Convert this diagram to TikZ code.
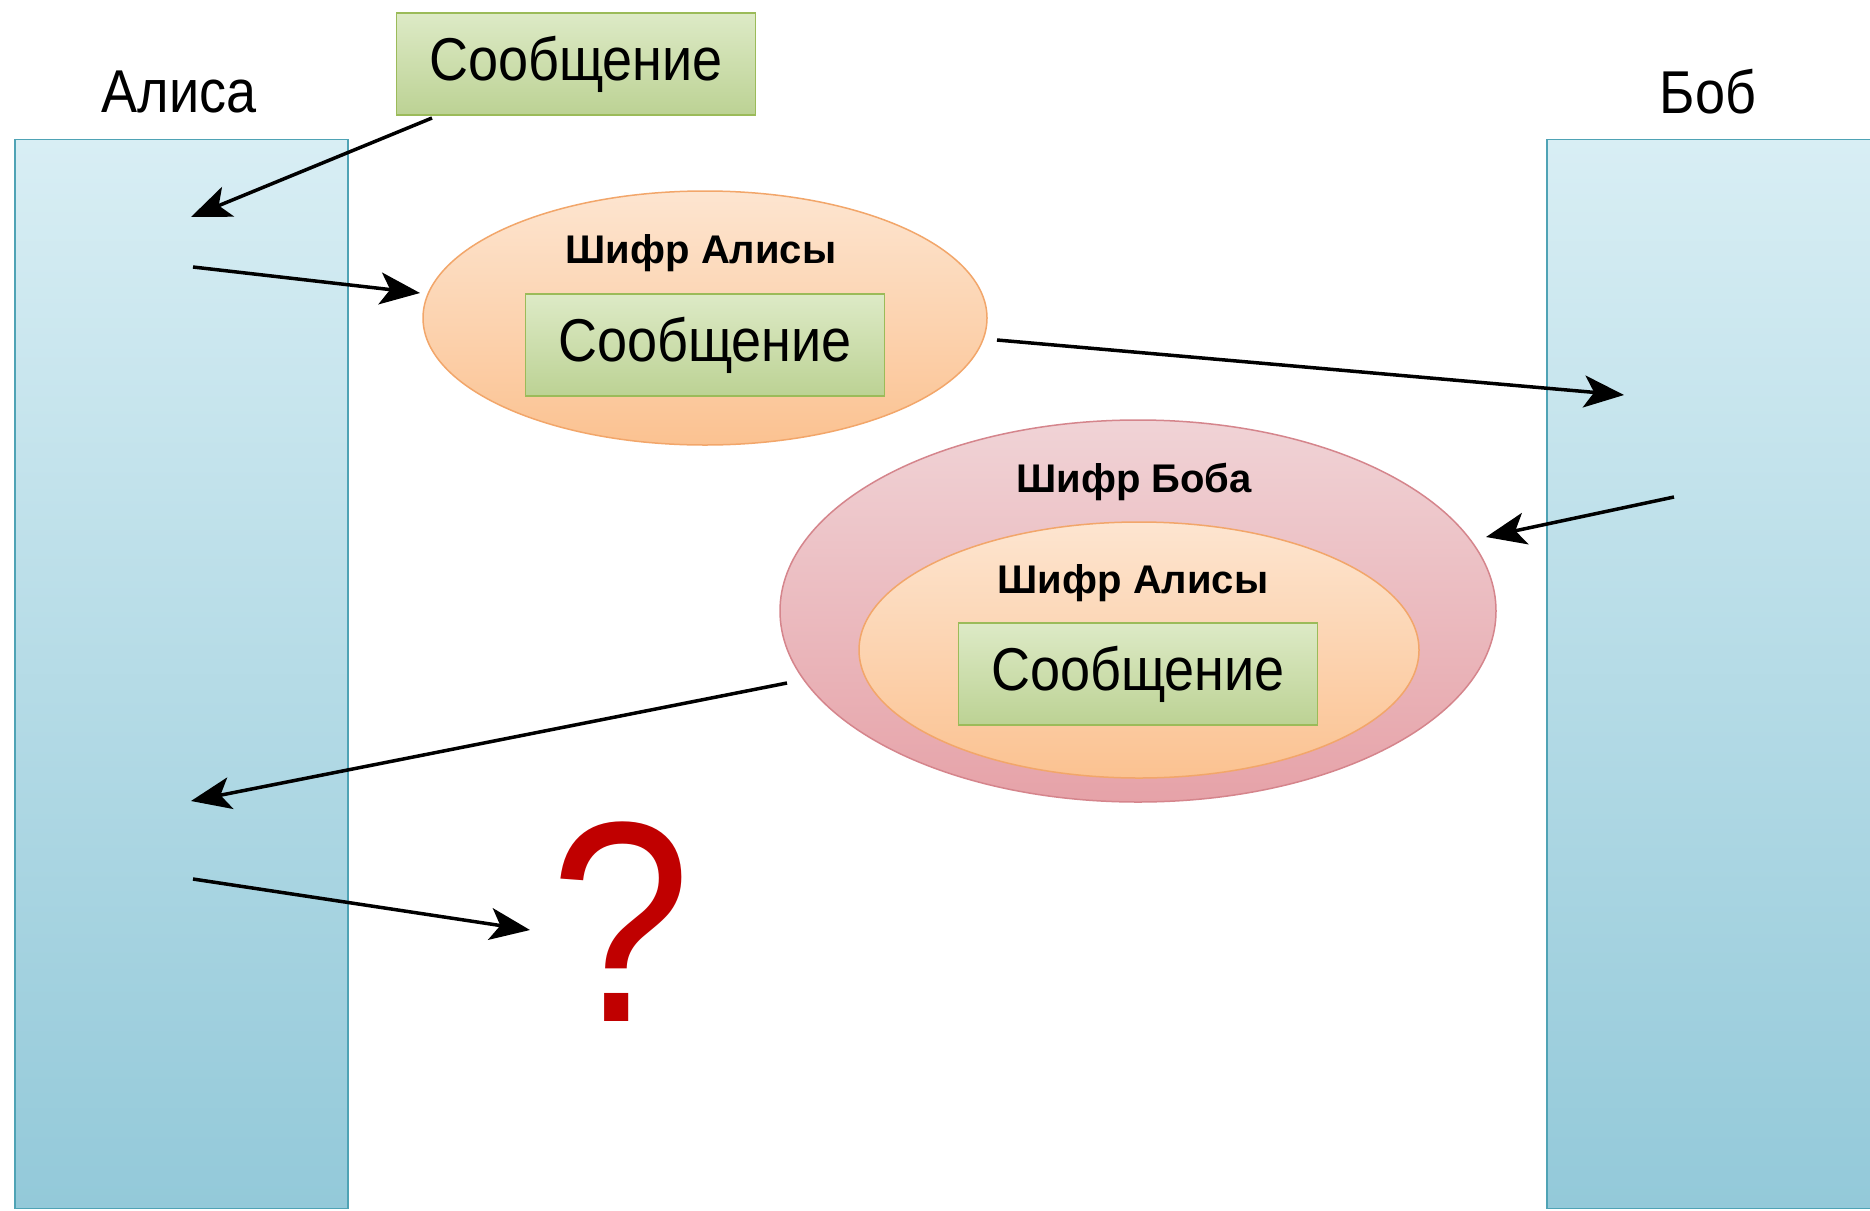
\documentclass[tikz,border=0pt]{standalone}
\usepackage{fontspec}
\setmainfont{Liberation Sans}
\usetikzlibrary{shapes.geometric,arrows.meta}
\definecolor{bartop}{HTML}{D8EEF4}
\definecolor{barbot}{HTML}{93C9D9}
\definecolor{barborder}{HTML}{4FA3B5}
\definecolor{msgtop}{HTML}{DDEAC6}
\definecolor{msgbot}{HTML}{BCD294}
\definecolor{msgborder}{HTML}{9BBB59}
\definecolor{ortop}{HTML}{FDE5D0}
\definecolor{orbot}{HTML}{FBC291}
\definecolor{orborder}{HTML}{F2A66A}
\definecolor{pktop}{HTML}{F0D3D6}
\definecolor{pkbot}{HTML}{E6A2A8}
\definecolor{pkborder}{HTML}{D5858C}
\definecolor{qred}{HTML}{C00000}
\newcommand{\msgtext}{\scalebox{1}[1.12]{Сообщение}}
\tikzset{
  bar/.style={rectangle, draw=barborder, line width=1.5pt, top color=bartop, bottom color=barbot, inner sep=0pt},
  msgbox/.style={rectangle, draw=msgborder, line width=1.5pt, top color=msgtop, bottom color=msgbot, inner sep=0pt, minimum width=359pt, minimum height=102pt, font=\fontsize{54}{60}\selectfont},
  orell/.style={ellipse, draw=orborder, line width=1.5pt, top color=ortop, bottom color=orbot, inner sep=0pt},
  pkell/.style={ellipse, draw=pkborder, line width=1.5pt, top color=pktop, bottom color=pkbot, inner sep=0pt},
  smalllbl/.style={font=\fontsize{40}{44}\selectfont\bfseries, inner sep=0pt},
  biglbl/.style={font=\fontsize{54}{60}\selectfont, inner sep=0pt},
  arr/.style={-{Stealth[length=40pt,width=32pt,inset=10pt]}, line width=3.5pt, black}
}
\begin{document}
\begin{tikzpicture}[x=1pt,y=-1pt]
\useasboundingbox (0,0) rectangle (1870,1210);
\fill[white] (0,0) rectangle (1870,1210);
% bars
\node[bar, minimum width=333pt, minimum height=1069pt] (alice) at (181.5,674) {};
\node[bar, minimum width=340pt, minimum height=1069pt] (bob) at (1717,674) {};
\node[biglbl] (alicel) at (179,92) {\scalebox{1}[1.12]{Алиса}};
\node[biglbl] (bobl) at (1708,92) {\scalebox{1}[1.12]{Боб}};
% top message
\node[msgbox] (m0) at (576,64) {\msgtext};
% Alice cipher ellipse
\node[orell, minimum width=564pt, minimum height=254pt] (e1) at (705,318) {};
\node[smalllbl] (e1l) at (701,253) {Шифр Алисы};
\node[msgbox] (m1) at (705,345) {\msgtext};
% Bob cipher ellipse
\node[pkell, minimum width=716pt, minimum height=382pt] (e2) at (1138,611) {};
\node[smalllbl] (e2l) at (1134,482) {Шифр Боба};
\node[orell, minimum width=560pt, minimum height=256pt] (e3) at (1139,650) {};
\node[smalllbl] (e3l) at (1133,583) {Шифр Алисы};
\node[msgbox] (m2) at (1138,674) {\msgtext};
% question mark
\node[font=\fontsize{275}{280}\selectfont, text=qred, inner sep=0pt] (q) at (621,922) {\scalebox{0.92}[1.04]{?}};
% arrow endpoints
\coordinate (a1s) at (432,118);
\coordinate (a1e) at (191,217);
\coordinate (a2s) at (193,267);
\coordinate (a2e) at (420,293);
\coordinate (a3s) at (997,340);
\coordinate (a3e) at (1624,395);
\coordinate (a4s) at (1674,497);
\coordinate (a4e) at (1486,537);
\coordinate (a5s) at (787,683);
\coordinate (a5e) at (191,801);
\coordinate (a6s) at (193,879);
\coordinate (a6e) at (530,930);
\draw[arr] (a1s) -- (a1e);
\draw[arr] (a2s) -- (a2e);
\draw[arr] (a3s) -- (a3e);
\draw[arr] (a4s) -- (a4e);
\draw[arr] (a5s) -- (a5e);
\draw[arr] (a6s) -- (a6e);
\end{tikzpicture}
\end{document}
